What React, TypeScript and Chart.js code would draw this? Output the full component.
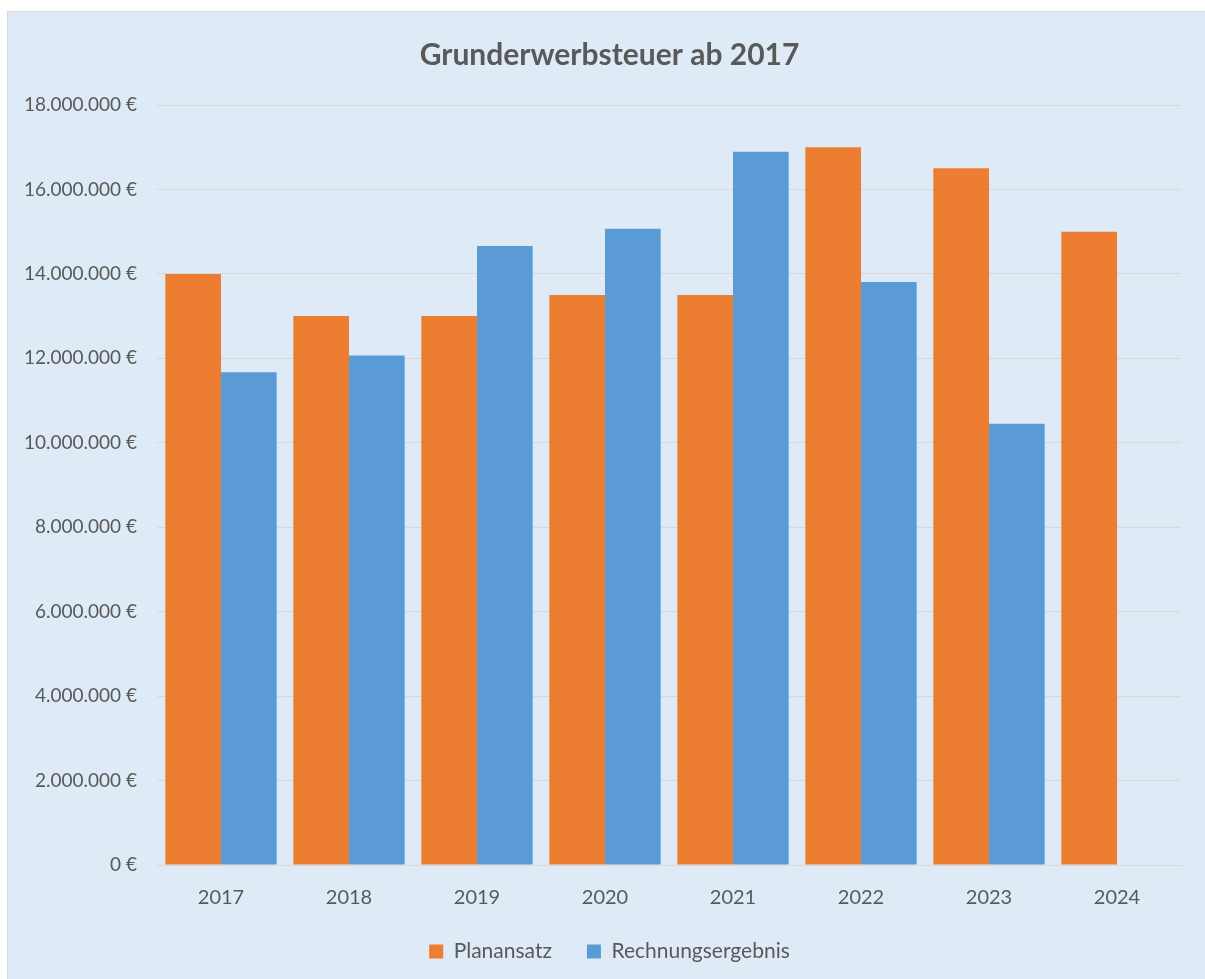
import React, { useEffect, useRef } from "react";
import { Chart, registerables } from "chart.js";

Chart.register(...registerables);

const years = ["2017", "2018", "2019", "2020", "2021", "2022", "2023", "2024"];
const planansatz = [14000000, 13000000, 13000000, 13500000, 13500000, 17000000, 16500000, 15000000];
const rechnungsergebnis = [11670000, 12070000, 14660000, 15070000, 16890000, 13810000, 10450000, null];
const yMax = 18000000;
const yStep = 2000000;

const TEXT = "#595959";
const FONT = "Lato, 'Open Sans', sans-serif";

function fmt(v: number): string {
  const s = Math.round(v).toString().replace(/\B(?=(\d{3})+(?!\d))/g, ".");
  return s + " €";
}

export default function App() {
  const ref = useRef<HTMLCanvasElement | null>(null);
  useEffect(() => {
    if (!ref.current) return;
    const chart = new Chart(ref.current, {
      type: "bar",
      data: {
        labels: years,
        datasets: [
          {
            label: "Planansatz",
            data: planansatz,
            backgroundColor: "#ED7D31",
            categoryPercentage: 0.87,
            barPercentage: 1,
          },
          {
            label: "Rechnungsergebnis",
            data: rechnungsergebnis as any,
            backgroundColor: "#5B9BD5",
            categoryPercentage: 0.87,
            barPercentage: 1,
          },
        ],
      },
      options: {
        animation: false,
        responsive: false,
        maintainAspectRatio: false,
        layout: { padding: { left: 0, right: 0, top: 0, bottom: 10 } },
        plugins: {
          title: {
            display: true,
            text: "Grunderwerbsteuer ab 2017",
            color: TEXT,
            font: { family: FONT, size: 30, weight: "bold" },
            padding: { top: 25, bottom: 32 },
          },
          legend: {
            position: "bottom",
            labels: {
              color: TEXT,
              font: { family: FONT, size: 21 },
              boxWidth: 14,
              boxHeight: 14,
              padding: 35,
            },
          },
          tooltip: { enabled: false },
        },
        scales: {
          x: {
            afterFit: (scale: any) => {
              scale.height = 41;
            },
            grid: { display: false, drawTicks: false },
            border: { display: true, color: "#D9D9D9", width: 1 },
            ticks: { color: TEXT, font: { family: FONT, size: 20 }, padding: 21 },
          },
          y: {
            min: 0,
            max: yMax,
            afterFit: (scale: any) => {
              scale.width = 149;
            },
            grid: { color: "#D9D9D9", lineWidth: 1, drawTicks: false },
            border: { display: false },
            ticks: {
              stepSize: yStep,
              color: TEXT,
              font: { family: FONT, size: 19 },
              padding: 20,
              callback: (v: any) => fmt(Number(v)),
            },
          },
          yRight: {
            position: "right",
            display: true,
            afterFit: (scale: any) => {
              scale.width = 30;
            },
            grid: { display: false, drawTicks: false },
            border: { display: false },
            ticks: { display: false },
          },
        },
      },
    });
    return () => chart.destroy();
  }, []);
  return (
    <div
      style={{
        position: "fixed",
        left: 7,
        top: 11,
        width: 1300,
        height: 1000,
        background: "#DEEBF7",
        borderTop: "1px solid #D9D9D9",
        borderLeft: "1px solid #D9D9D9",
        boxSizing: "border-box",
        overflow: "hidden",
      }}
    >
      <canvas ref={ref} width={1203} height={970} style={{ display: "block" }} />
    </div>
  );
}
